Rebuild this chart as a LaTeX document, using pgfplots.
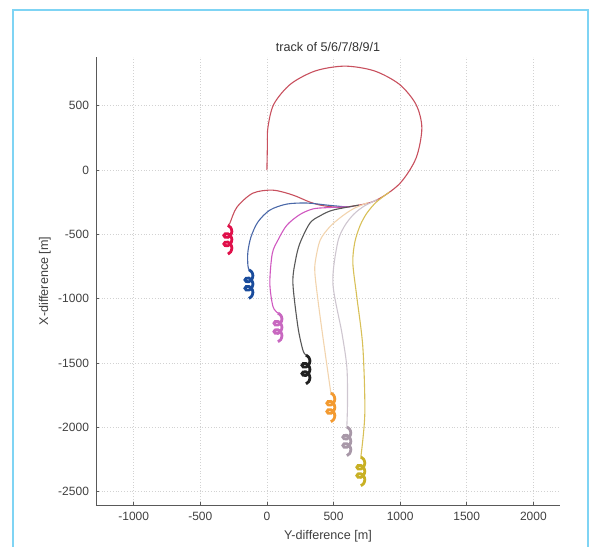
\documentclass[border=0pt]{standalone}
\usepackage{fontspec}
\setmainfont{Liberation Sans}
\usepackage{pgfplots}
\pgfplotsset{compat=1.18}

\definecolor{redtrk}{HTML}{C8505E}
\definecolor{redend}{HTML}{E0104A}
\definecolor{bluetrk}{HTML}{4A68A8}
\definecolor{blueend}{HTML}{1A4C9C}
\definecolor{magtrk}{HTML}{D058C0}
\definecolor{magend}{HTML}{C868C0}
\definecolor{blktrk}{HTML}{585858}
\definecolor{blkend}{HTML}{202020}
\definecolor{orgtrk}{HTML}{F2D4AE}
\definecolor{orgend}{HTML}{F39A30}
\definecolor{gratrk}{HTML}{CEC6D0}
\definecolor{graend}{HTML}{A898A8}
\definecolor{yeltrk}{HTML}{D8C058}
\definecolor{yelend}{HTML}{C8B024}
\definecolor{scanblue}{HTML}{7FD4F4}

\begin{document}
\begin{tikzpicture}
% picture frame: 1 px of the reference = 0.5pt, axis corner at px (96,505)
\path[use as bounding box] (-48pt,-21pt) rectangle (250pt,252.5pt);
\draw[scanblue, line width=0.6pt] (-41.5pt,-22pt) -- (-41.5pt,247.5pt) -- (246pt,247.5pt) -- (246pt,-22pt);
\begin{axis}[
    scale only axis,
    width=232pt,
    height=224pt,
    xmin=-1283, xmax=2200,
    ymin=-2605, ymax=880,
    axis lines*=left,
    axis line style={gray!70!black, line width=0.4pt},
    tick align=inside,
    major tick length=1.5pt,
    tick style={gray!70!black, line width=0.4pt},
    xtick={-1000,-500,0,500,1000,1500,2000},
    ytick={-2500,-2000,-1500,-1000,-500,0,500},
    grid=major,
    grid style={densely dotted, gray!35, line width=0.4pt},
    /pgf/number format/assume math mode=true,
    /pgf/number format/1000 sep={},
    ticklabel style={font=\fontsize{6}{7}\selectfont, text=black!75},
    xlabel={Y-difference [m]},
    ylabel={X-difference [m]},
    label style={font=\fontsize{6.3}{7.5}\selectfont, text=black!75},
    xlabel style={at={(axis description cs:0.5,-0.069)}, anchor=center},
    ylabel style={at={(axis description cs:-0.11,0.5)}, anchor=center},
    title={track of 5/6/7/8/9/1},
    title style={font=\fontsize{6.3}{7.5}\selectfont, text=black!80, at={(axis description cs:0.5,1.022)}, anchor=center, yshift=-6pt},
    clip=false,
]
% track 5 (leader, with the circle)
\addplot[redtrk, line width=0.55pt, smooth] coordinates {
(0,0) (3,160) (7,327) (51,511) (176,668) (364,772) (585,809) (806,772)
(994,668) (1119,511) (1163,327) (1119,92) (994,-108) (806,-241) (585,-288)
(430,-278) (323,-249) (195,-194) (45,-156) (-105,-179) (-225,-288) (-278,-412)
(-293,-430)};
% track 6
\addplot[bluetrk, line width=0.55pt, smooth] coordinates {
(600,-287) (450,-272) (300,-256) (150,-264) (22,-311) (-68,-404) (-120,-521)
(-143,-638) (-143,-740) (-135,-775)};
% track 7
\addplot[magtrk, line width=0.55pt, smooth] coordinates {
(640,-284) (450,-292) (345,-302) (248,-345) (150,-428) (83,-544) (40,-650)
(22,-879) (45,-1060) (83,-1112)};
% track 8
\addplot[blktrk, line width=0.55pt, smooth] coordinates {
(690,-272) (495,-311) (400,-355) (323,-412) (248,-568) (215,-700) (195,-879)
(233,-1221) (270,-1400) (293,-1439)};
% track 9
\addplot[orgtrk, line width=0.55pt, smooth] coordinates {
(760,-252) (650,-300) (560,-362) (473,-440) (400,-544) (365,-700) (360,-800)
(383,-1011) (413,-1244) (450,-1516) (480,-1734)};
% track 1
\addplot[gratrk, line width=0.55pt, smooth] coordinates {
(830,-228) (730,-280) (650,-345) (580,-440) (530,-568) (495,-879) (563,-1267)
(600,-1532) (605,-1800) (600,-1998)};
% track 10
\addplot[yeltrk, line width=0.55pt, smooth] coordinates {
(920,-170) (820,-250) (750,-335) (700,-430) (660,-560) (645,-723) (675,-988)
(720,-1376) (735,-1890) (705,-2232)};

% end manoeuvres (loops)
\addplot[redend, line width=1.4pt, smooth] coordinates {
(-293,-430) (-272,-447) (-263,-476) (-272,-506) (-293,-523) (-314,-522) (-323,-509)
(-314,-496) (-293,-495) (-272,-512) (-263,-541) (-272,-571) (-293,-588) (-314,-587)
(-323,-574) (-314,-561) (-293,-560) (-272,-577) (-263,-606) (-272,-636) (-293,-653)};
\addplot[blueend, line width=1.4pt, smooth] coordinates {
(-135,-775) (-114,-792) (-105,-821) (-114,-851) (-135,-868) (-156,-867) (-165,-854)
(-156,-841) (-135,-840) (-114,-857) (-105,-886) (-114,-916) (-135,-933) (-156,-932)
(-165,-919) (-156,-906) (-135,-905) (-114,-922) (-105,-951) (-114,-981) (-135,-998)};
\addplot[magend, line width=1.4pt, smooth] coordinates {
(83,-1112) (104,-1129) (113,-1158) (104,-1188) (83,-1205) (62,-1204) (53,-1191)
(62,-1178) (83,-1177) (104,-1194) (113,-1223) (104,-1253) (83,-1270) (62,-1269)
(53,-1256) (62,-1243) (83,-1242) (104,-1259) (113,-1288) (104,-1318) (83,-1335)};
\addplot[blkend, line width=1.4pt, smooth] coordinates {
(293,-1439) (314,-1456) (323,-1485) (314,-1515) (293,-1532) (272,-1531) (263,-1518)
(272,-1505) (293,-1504) (314,-1521) (323,-1550) (314,-1580) (293,-1597) (272,-1596)
(263,-1583) (272,-1570) (293,-1569) (314,-1586) (323,-1615) (314,-1645) (293,-1662)};
\addplot[orgend, line width=1.4pt, smooth] coordinates {
(480,-1734) (501,-1751) (510,-1780) (501,-1810) (480,-1827) (459,-1826) (450,-1813)
(459,-1800) (480,-1799) (501,-1816) (510,-1845) (501,-1875) (480,-1892) (459,-1891)
(450,-1878) (459,-1865) (480,-1864) (501,-1881) (510,-1910) (501,-1940) (480,-1957)};
\addplot[graend, line width=1.4pt, smooth] coordinates {
(600,-1998) (621,-2015) (630,-2044) (621,-2074) (600,-2091) (579,-2090) (570,-2077)
(579,-2064) (600,-2063) (621,-2080) (630,-2109) (621,-2139) (600,-2156) (579,-2155)
(570,-2142) (579,-2129) (600,-2128) (621,-2145) (630,-2174) (621,-2204) (600,-2221)};
\addplot[yelend, line width=1.4pt, smooth] coordinates {
(705,-2232) (726,-2249) (735,-2278) (726,-2308) (705,-2325) (684,-2324) (675,-2311)
(684,-2298) (705,-2297) (726,-2314) (735,-2343) (726,-2373) (705,-2390) (684,-2389)
(675,-2376) (684,-2363) (705,-2362) (726,-2379) (735,-2408) (726,-2438) (705,-2455)};
\end{axis}
\end{tikzpicture}
\end{document}
